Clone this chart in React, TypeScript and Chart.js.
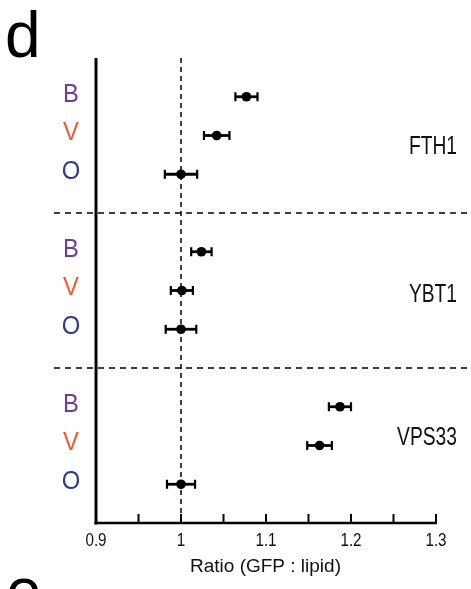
import React, { useEffect, useRef } from "react";
import { Chart, registerables } from "chart.js";

Chart.register(...registerables);

const genes = ["FTH1", "YBT1", "VPS33"];
const conditions = ["B", "V", "O"];
const conditionColors = ["#6c3c9e", "#f15a29", "#2d3a92"];

const ratioFTH1 = [1.077, 1.042, 1.0];
const errFTH1 = [0.013, 0.015, 0.019];
const ratioYBT1 = [1.024, 1.001, 1.0];
const errYBT1 = [0.012, 0.013, 0.018];
const ratioVPS33 = [1.187, 1.163, 1.0];
const errVPS33 = [0.013, 0.0145, 0.0165];

const xMajorTicks = [0.9, 1, 1.1, 1.2, 1.3];
const xMinorTicks = [0.95, 1.05, 1.15, 1.25];
const separatorRows = [3, 7];
const geneLabelRows = [1.3, 5.1, 8.8];
const referenceRatio = 1;
const xTitle = "Ratio (GFP : lipid)";

const ratios = [ratioFTH1, ratioYBT1, ratioVPS33];
const errors = [errFTH1, errYBT1, errVPS33];

type Pt = { x: number; y: number; e: number };
const points: Pt[] = [];
ratios.forEach((arr, g) =>
  arr.forEach((v, c) => points.push({ x: v, y: g * 4 + c, e: errors[g][c] }))
);

const FONT = "'Liberation Sans', Arial, Helvetica, sans-serif";

function drawText(
  ctx: CanvasRenderingContext2D,
  text: string,
  x: number,
  y: number,
  size: number,
  color: string,
  align: CanvasTextAlign,
  baseline: CanvasTextBaseline,
  sx: number
) {
  ctx.save();
  ctx.translate(x, y);
  ctx.scale(sx, 1);
  ctx.font = `${size}px ${FONT}`;
  ctx.fillStyle = color;
  ctx.textAlign = align;
  ctx.textBaseline = baseline;
  ctx.fillText(text, 0, 0);
  ctx.restore();
}

const decorPlugin = {
  id: "decor",
  beforeDatasetsDraw(chart: any) {
    const ctx: CanvasRenderingContext2D = chart.ctx;
    const xs = chart.scales.x;
    const ys = chart.scales.y;
    const area = chart.chartArea;
    ctx.save();
    ctx.strokeStyle = "#000";
    ctx.lineWidth = 1.5;
    ctx.setLineDash([5, 4]);
    const xr = xs.getPixelForValue(referenceRatio);
    ctx.beginPath();
    ctx.moveTo(xr, area.top);
    ctx.lineTo(xr, area.bottom);
    ctx.stroke();
    ctx.setLineDash([6, 5]);
    separatorRows.forEach((r) => {
      const yp = ys.getPixelForValue(r);
      ctx.beginPath();
      ctx.moveTo(54, yp);
      ctx.lineTo(chart.width, yp);
      ctx.stroke();
    });
    ctx.setLineDash([]);
    points.forEach((p) => {
      const yp = ys.getPixelForValue(p.y);
      const x1 = xs.getPixelForValue(p.x - p.e);
      const x2 = xs.getPixelForValue(p.x + p.e);
      ctx.lineWidth = 2.8;
      ctx.beginPath();
      ctx.moveTo(x1, yp);
      ctx.lineTo(x2, yp);
      ctx.stroke();
      ctx.lineWidth = 2.2;
      ctx.beginPath();
      ctx.moveTo(x1, yp - 4.5);
      ctx.lineTo(x1, yp + 4.5);
      ctx.moveTo(x2, yp - 4.5);
      ctx.lineTo(x2, yp + 4.5);
      ctx.stroke();
    });
    ctx.restore();
  },
  afterDraw(chart: any) {
    const ctx: CanvasRenderingContext2D = chart.ctx;
    const xs = chart.scales.x;
    const ys = chart.scales.y;
    const area = chart.chartArea;
    ctx.save();
    ctx.strokeStyle = "#000";
    ctx.lineWidth = 3;
    ctx.beginPath();
    ctx.moveTo(area.left, area.top);
    ctx.lineTo(area.left, area.bottom + 1.5);
    ctx.stroke();
    ctx.lineWidth = 2.6;
    ctx.beginPath();
    ctx.moveTo(area.left - 1.5, area.bottom);
    ctx.lineTo(area.right + 1, area.bottom);
    ctx.stroke();
    ctx.lineWidth = 2;
    [...xMajorTicks, ...xMinorTicks].forEach((t) => {
      const xp = xs.getPixelForValue(t);
      ctx.beginPath();
      ctx.moveTo(xp, area.bottom);
      ctx.lineTo(xp, area.bottom - 9);
      ctx.stroke();
    });
    xMajorTicks.forEach((t) => {
      drawText(ctx, String(t), xs.getPixelForValue(t), area.bottom + 18, 19, "#111", "center", "middle", 0.8);
    });
    drawText(ctx, xTitle, (area.left + area.right) / 2 - 0.5, area.bottom + 49, 19, "#111", "center", "alphabetic", 1);
    genes.forEach((_, g) =>
      conditions.forEach((c, i) => {
        const yp = ys.getPixelForValue(g * 4 + i);
        drawText(ctx, c, 71, yp - 2, 25, conditionColors[i], "center", "middle", 0.95);
      })
    );
    genes.forEach((gname, g) => {
      drawText(ctx, gname, 457, ys.getPixelForValue(geneLabelRows[g]), 26, "#111", "right", "middle", 0.74);
    });
    drawText(ctx, "d", 5, 57, 64, "#000", "left", "alphabetic", 1);
    drawText(ctx, "e", 6, 613, 64, "#000", "left", "alphabetic", 1);
    ctx.restore();
  },
};

export default function App() {
  const ref = useRef<HTMLCanvasElement | null>(null);
  useEffect(() => {
    document.body.style.margin = "0";
    const canvas = ref.current;
    if (!canvas) return;
    const chart = new Chart(canvas, {
      type: "scatter",
      data: {
        datasets: [
          {
            data: points.map((p) => ({ x: p.x, y: p.y })),
            backgroundColor: "#000",
            borderColor: "#000",
            pointRadius: 4.8,
            pointHoverRadius: 4.8,
            borderWidth: 0,
          },
        ],
      },
      options: {
        responsive: false,
        animation: false,
        devicePixelRatio: 1,
        layout: { autoPadding: false, padding: { left: 96, right: 35, top: 58, bottom: 66 } },
        plugins: { legend: { display: false }, tooltip: { enabled: false } },
        scales: {
          x: {
            type: "linear",
            min: 0.9,
            max: 1.3,
            grid: { display: false, drawTicks: false, tickLength: 0 },
            ticks: { display: false, padding: 0 },
            border: { display: false },
          },
          y: {
            type: "linear",
            min: -1,
            max: 11,
            reverse: true,
            grid: { display: false, drawTicks: false, tickLength: 0 },
            ticks: { display: false, padding: 0 },
            border: { display: false },
          },
        },
      },
      plugins: [decorPlugin],
    });
    return () => chart.destroy();
  }, []);
  return (
    <canvas
      ref={ref}
      width={471}
      height={589}
      style={{ display: "block", width: 471, height: 589 }}
    />
  );
}
